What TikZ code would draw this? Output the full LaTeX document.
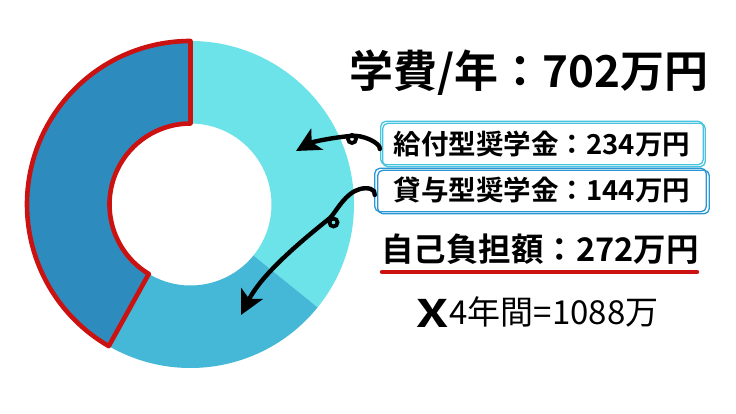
\documentclass[tikz,border=0pt]{standalone}
\usepackage{fontspec}
\setmainfont{Noto Sans CJK JP}
\newfontfamily\jpb{Noto Sans CJK JP Bold}
\newfontfamily\jpr{Noto Sans CJK JP}
\usetikzlibrary{arrows.meta}
\definecolor{segLight}{RGB}{108,227,232}
\definecolor{segMid}{RGB}{69,183,215}
\definecolor{segDark}{RGB}{46,139,190}
\definecolor{redline}{RGB}{204,17,17}
\definecolor{boxA}{RGB}{72,196,224}
\definecolor{boxB}{RGB}{42,151,212}
\tikzset{
  handarrow/.style={line width=4.4pt, line cap=round, -{Stealth[length=24pt,width=24pt,inset=6pt]}},
  loopmark/.style={line width=3.8pt},
  boxtext/.style={font=\jpb\fontsize{27.5}{28}\selectfont, inner sep=0pt, minimum height=43pt, text=black},
  handbox/.style={line width=1.3pt, rounded corners=5pt},
}
\begin{document}
\begin{tikzpicture}[x=1pt,y=1pt]
\useasboundingbox (0,0) rectangle (736,414);
\fill[white] (0,0) rectangle (736,414);
% donut
\def\R{163.5}
\def\r{81}
\begin{scope}[shift={(190.5,209.5)}]
  \fill[segLight] (90:\R) arc[start angle=90,end angle=-39,radius=\R] -- (-39:\r) arc[start angle=-39,end angle=90,radius=\r] -- cycle;
  \fill[segMid] (-39:\R) arc[start angle=-39,end angle=-120,radius=\R] -- (-120:\r) arc[start angle=-120,end angle=-39,radius=\r] -- cycle;
  \fill[segDark] (90:\R) arc[start angle=90,end angle=240,radius=\R] -- (240:\r) arc[start angle=240,end angle=90,radius=\r] -- cycle;
  \draw[redline, line width=4.6pt, line join=round] (90:\R) arc[start angle=90,end angle=240,radius=\R] -- (239:\r) arc[start angle=239,end angle=90,radius=\r] -- cycle;
\end{scope}
% title
\node[font=\jpb\fontsize{44}{44}\selectfont, inner sep=0pt] (title) at (529,341) {学費/年：702万円};
% boxes
\node[boxtext, minimum width=324pt] (box1) at (542,270) {給付型奨学金：234万円};
\node[boxtext, minimum width=334pt] (box2) at (542,224) {貸与型奨学金：144万円};
\draw[handbox, boxA] ([xshift=1pt,yshift=1pt]box1.south west) rectangle ([xshift=-1pt,yshift=1pt]box1.north east);
\draw[handbox, boxA] ([xshift=3pt,yshift=-1pt]box1.south west) rectangle ([xshift=1pt,yshift=-1pt]box1.north east);
\draw[handbox, boxB] ([xshift=0pt,yshift=0pt]box2.south west) rectangle ([xshift=-3pt,yshift=0pt]box2.north east);
\draw[handbox, boxB] ([xshift=3pt,yshift=-2pt]box2.south west) rectangle ([xshift=0pt,yshift=-2pt]box2.north east);
% own burden
\node[font=\jpb\fontsize{32.5}{33}\selectfont, inner sep=0pt] (self) at (540,165) {自己負担額：272万円};
\coordinate (ulA) at (382,142);
\coordinate (ulB) at (697,142);
\draw[redline, line width=4.4pt, line cap=round] (ulA) -- (ulB);
% times four years
\node[font=\jpb\fontsize{38}{38}\selectfont, inner sep=0pt] (times) at (432.5,101) {\scalebox{1.35}[1]{X}};
\node[font=\jpr\fontsize{33}{33}\selectfont, inner sep=0pt] (total) at (554,102) {4年間=1088万};
% arrows
\coordinate (tip1) at (296,263);
\coordinate (tip2) at (241,99);
\draw[handarrow] ([yshift=-5pt]box1.west) .. controls +(1,6) and (362,280) .. (350,278) .. controls (330,276) and (312,272) .. (tip1);
\draw[loopmark] (352,275) circle[radius=4];
\draw[handarrow] ([yshift=-5pt]box2.west) .. controls +(1,6) and (368,227) .. (360,225) .. controls (345,221) and (336,202) .. (330,196) .. controls (300,172) and (262,140) .. (tip2);
\draw[loopmark] (333.5,191.5) circle[radius=4];
\end{tikzpicture}
\end{document}
